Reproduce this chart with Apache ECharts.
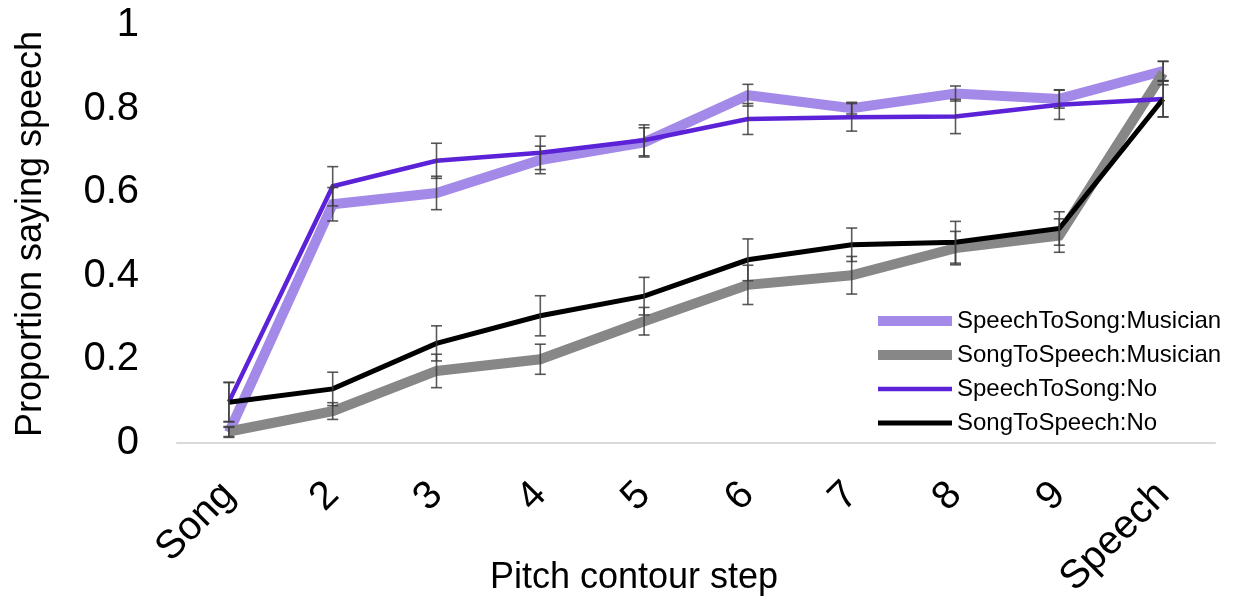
<!DOCTYPE html>
<html>
<head>
<meta charset="utf-8">
<script src="https://cdn.jsdelivr.net/npm/echarts@6/dist/echarts.min.js"></script>
<style>html,body{margin:0;padding:0;background:#fff}#c{width:1233px;height:601px}</style>
</head>
<body>
<div id="c"></div>
<script>
const categories = ['Song','2','3','4','5','6','7','8','9','Speech'];
const yTicks = [0, 0.2, 0.4, 0.6, 0.8, 1];

const speechToSongMusician = [0.025, 0.571, 0.598, 0.677, 0.719, 0.832, 0.801, 0.836, 0.823, 0.890];
const speechToSongMusicianErr = [0.012, 0.040, 0.040, 0.033, 0.035, 0.026, 0.014, 0.018, 0.022, 0.023];

const songToSpeechMusician = [0.027, 0.076, 0.172, 0.200, 0.291, 0.378, 0.401, 0.466, 0.496, 0.885];
const songToSpeechMusicianErr = [0.012, 0.020, 0.040, 0.036, 0.033, 0.047, 0.045, 0.040, 0.040, 0.028];

const speechToSongNo = [0.098, 0.614, 0.675, 0.694, 0.724, 0.775, 0.779, 0.781, 0.809, 0.823];
const speechToSongNoErr = [0.047, 0.047, 0.042, 0.040, 0.037, 0.037, 0.033, 0.041, 0.035, 0.043];

const songToSpeechNo = [0.097, 0.129, 0.238, 0.304, 0.351, 0.438, 0.474, 0.480, 0.513, 0.823];
const songToSpeechNoErr = [0.047, 0.040, 0.042, 0.048, 0.045, 0.050, 0.040, 0.050, 0.040, 0.043];

const seriesNames = ['SpeechToSong:Musician','SongToSpeech:Musician','SpeechToSong:No','SongToSpeech:No'];
const seriesColors = ['#a48ae8','#878787','#5b22d8','#000000'];
const seriesWidths = [10, 10, 4.5, 5];
const seriesValues = [speechToSongMusician, songToSpeechMusician, speechToSongNo, songToSpeechNo];
const seriesErrs = [speechToSongMusicianErr, songToSpeechMusicianErr, speechToSongNoErr, songToSpeechNoErr];

const FONT = "'Liberation Sans', Arial, sans-serif";

function errData(vals, errs) {
  return vals.map((v, i) => [i, v - errs[i], v + errs[i]]);
}
function renderErr(params, api) {
  const x = api.value(0);
  const lo = api.coord([x, api.value(1)]);
  const hi = api.coord([x, api.value(2)]);
  const hw = 5.5;
  const st = { stroke: 'rgba(60,60,60,0.85)', lineWidth: 1.6, fill: null };
  return {
    type: 'group',
    children: [
      { type: 'line', shape: { x1: lo[0], y1: lo[1], x2: hi[0], y2: hi[1] }, style: st },
      { type: 'line', shape: { x1: lo[0] - hw, y1: lo[1], x2: lo[0] + hw, y2: lo[1] }, style: st },
      { type: 'line', shape: { x1: hi[0] - hw, y1: hi[1], x2: hi[0] + hw, y2: hi[1] }, style: st }
    ]
  };
}

const series = [];
seriesNames.forEach((n, k) => {
  series.push({
    name: n, type: 'line', data: seriesValues[k], symbol: 'none', smooth: false,
    lineStyle: { color: seriesColors[k], width: seriesWidths[k], cap: 'butt', join: 'miter' },
    itemStyle: { color: seriesColors[k] },
    z: 2 + k, animation: false
  });
});
seriesNames.forEach((n, k) => {
  series.push({
    name: n + ' err', type: 'custom', data: errData(seriesValues[k], seriesErrs[k]),
    renderItem: renderErr, z: 10, animation: false, silent: true,
    encode: { x: 0, y: [1, 2] }
  });
});

const chart = echarts.init(document.getElementById('c'), null, { renderer: 'canvas' });
chart.setOption({
  animation: false,
  backgroundColor: '#fff',
  grid: { left: 177, right: 18, top: 25, bottom: 153, containLabel: false },
  xAxis: {
    type: 'category', data: categories, boundaryGap: true,
    axisLine: { lineStyle: { color: '#d9d9d9', width: 2 } },
    axisTick: { show: false },
    axisLabel: { rotate: 45, fontSize: 40, color: '#000', fontFamily: FONT, margin: 46, interval: 0 }
  },
  yAxis: {
    type: 'value', min: 0, max: 1, interval: 0.2,
    axisLine: { show: false }, axisTick: { show: false }, splitLine: { show: false },
    axisLabel: { fontSize: 40, color: '#000', fontFamily: FONT, margin: 38,
      formatter: v => String(Math.round(v * 10) / 10) }
  },
  legend: {
    orient: 'vertical', left: 873, top: 309, padding: 0, itemWidth: 74, itemHeight: 14, itemGap: 10,
    textStyle: { fontSize: 24, color: '#000', fontFamily: FONT, lineHeight: 24 },
    data: seriesNames.map((n, k) => ({ name: n,
      itemStyle: { opacity: 0 },
      lineStyle: { width: seriesWidths[k], color: seriesColors[k] } }))
  },
  graphic: [
    { type: 'text', x: 634, y: 578, style: { text: 'Pitch contour step', font: '36px ' + FONT, fill: '#000', textAlign: 'center', textVerticalAlign: 'middle' } },
    { type: 'text', x: 31, y: 234, rotation: Math.PI / 2, style: { text: 'Proportion saying speech', font: '36px ' + FONT, fill: '#000', textAlign: 'center', textVerticalAlign: 'middle' } }
  ],
  series: series
});
</script>
</body>
</html>
